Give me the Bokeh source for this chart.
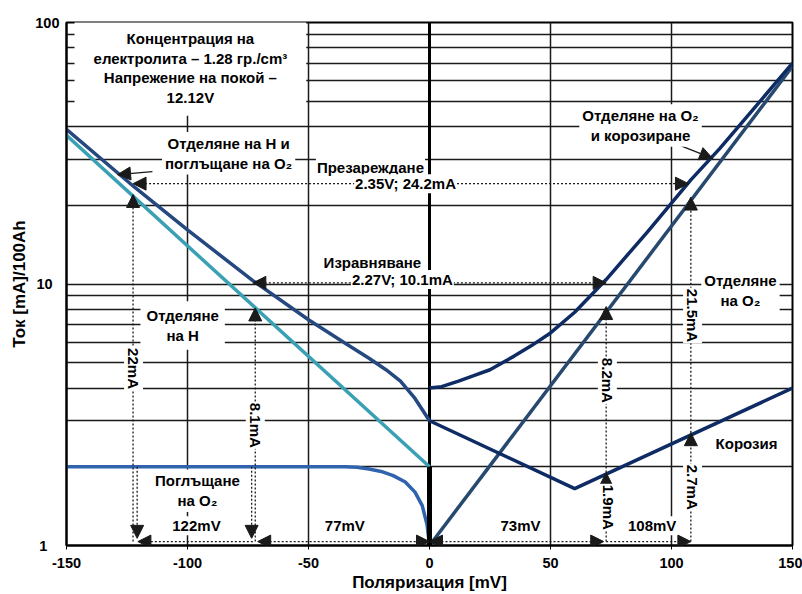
from math import pi
from bokeh.plotting import figure
from bokeh.models import Label, Arrow, NormalHead, FixedTicker, Span, BasicTickFormatter
from bokeh.embed import file_html
from bokeh.resources import INLINE

# ---------------- data ----------------
# hydrogen evolution (straight on log scale)
h_evol_x = [-150, 0]
h_evol_y = [37, 2]
# hydrogen evolution + oxygen absorption
h_total_x = [-150, -122, -100, -73, -50, -35, -25, -18, -12, -6, 0]
h_total_y = [39, 23.5, 16.1, 10.3, 7.3, 5.95, 5.2, 4.7, 4.25, 3.65, 3.0]
# oxygen absorption
o2_abs_x = [-150, -35, -30, -25, -20, -15, -10, -6, -3, -1, 0]
o2_abs_y = [2, 2, 1.99, 1.96, 1.92, 1.85, 1.75, 1.6, 1.42, 1.2, 1.0]
# oxygen evolution
o2_evol_x = [0, 150]
o2_evol_y = [1, 68]
# oxygen evolution + corrosion
o2_total_x = [0, 5, 12, 18, 25, 35, 42, 50, 60, 73, 90, 108, 120, 135, 150]
o2_total_y = [4.0, 4.05, 4.25, 4.45, 4.7, 5.3, 5.8, 6.5, 7.8, 10.4, 15.8, 25, 33, 48, 70]
# corrosion
corr_x = [0, 60, 150]
corr_y = [3, 1.65, 4]

x_ticks = [-150, -100, -50, 0, 50, 100, 150]
y_major = [1, 10, 100]
y_minor = [2, 3, 4, 5, 6, 7, 8, 9, 20, 30, 40, 50, 60, 70, 80, 90]
# y tick labels are centred in the reference: pad the short ones on the right
y_labels = {1: "1\u2007\u2008", 10: "10\u2008\u2009", 100: "100"}

# annotation values
mv_marks = [-122, -73, 73, 108]
ma_evol = [22, 8.1, 8.2, 21.5]
ma_side = [2, 2, 1.9, 2.7]
overcharge_ma = 24.2
equalize_ma = 10.1
base_ma = 1.035

FONT = "Liberation Sans"
INK = "#1a1a1a"

p = figure(width=802, height=594, x_range=(-150, 150), y_range=(1, 100),
           y_axis_type="log", output_backend="svg", toolbar_location=None,
           min_border_left=66, min_border_right=10, min_border_top=22,
           min_border_bottom=49)
p.background_fill_color = "white"
p.border_fill_color = "white"
p.outline_line_color = "black"
p.outline_line_width = 2

xt = FixedTicker(ticks=x_ticks)
p.xaxis.ticker = xt
p.xgrid.ticker = xt
p.xaxis.major_label_overrides = {t: str(t) for t in x_ticks}
yt = FixedTicker(ticks=y_major, minor_ticks=y_minor)
p.yaxis.ticker = yt
p.ygrid.ticker = yt
p.yaxis.formatter = BasicTickFormatter()
p.yaxis.major_label_overrides = y_labels

p.xgrid.grid_line_color = INK
p.xgrid.grid_line_width = 1.5
p.ygrid.grid_line_color = INK
p.ygrid.grid_line_width = 1.5
p.ygrid.minor_grid_line_color = INK
p.ygrid.minor_grid_line_width = 1.5

for ax in p.axis:
    ax.axis_line_color = "black"
    ax.axis_line_width = 2
    ax.major_label_text_font = FONT
    ax.major_label_text_font_style = "bold"
    ax.major_label_text_font_size = "14.5px"
    ax.major_label_text_color = "black"
    ax.axis_label_text_font = FONT
    ax.axis_label_text_font_style = "bold"
    ax.axis_label_text_font_size = "17px"
    ax.axis_label_text_color = "black"
    ax.minor_tick_line_color = None

p.xaxis.axis_label = "Поляризация [mV]"
p.xaxis.major_tick_out = 4
p.xaxis.major_tick_in = 0
p.xaxis.major_tick_line_color = "black"
p.xaxis.major_label_standoff = 8
p.xaxis.axis_label_standoff = 2

p.yaxis.axis_label = "Ток [mA]/100Ah"
p.yaxis.major_tick_out = 0
p.yaxis.major_tick_in = 0
p.yaxis.major_label_standoff = 3
p.yaxis.axis_label_standoff = 3

# emphasised zero line
p.add_layout(Span(location=0, dimension="height", line_color="black",
                  line_width=3, level="underlay"))

# curves
W = 3.5
p.line(h_evol_x, h_evol_y, line_color="#3aa0b3", line_width=W)
p.line(o2_abs_x, o2_abs_y, line_color="#2f63ad", line_width=W)
p.line(h_total_x, h_total_y, line_color="#24487f", line_width=W)
p.line(o2_evol_x, o2_evol_y, line_color="#27496f", line_width=W)
p.line(o2_total_x, o2_total_y, line_color="#0e2b64", line_width=W)
p.line(corr_x, corr_y, line_color="#0e2b64", line_width=W)
p.line([h_evol_x[-1], h_evol_x[-1]], [o2_abs_y[-1], h_evol_y[-1]],
       line_color="black", line_width=5)


def head():
    return NormalHead(size=13, fill_color=INK, line_color=INK, line_width=1)


def arrow(x0, y0, x1, y1, start=False, end=True, dash="2 2"):
    p.add_layout(Arrow(x_start=x0, y_start=y0, x_end=x1, y_end=y1,
                       line_color=INK, line_width=1.3, line_dash=dash,
                       start=head() if start else None,
                       end=head() if end else None))


# horizontal level arrows
arrow(mv_marks[0] - 0.5, overcharge_ma, mv_marks[3] - 1, overcharge_ma, start=True)
arrow(mv_marks[1], equalize_ma, mv_marks[2], equalize_ma, start=True)

# vertical arrows, negative side
arrow(mv_marks[0] - 0.5, base_ma, mv_marks[0] - 0.5, ma_evol[0])
arrow(mv_marks[0] + 1.2, ma_side[0], mv_marks[0] + 1.2, base_ma + 0.03)
arrow(mv_marks[1] + 1.0, base_ma, mv_marks[1] + 1.0, ma_evol[1])
arrow(mv_marks[1] - 0.5, ma_side[1], mv_marks[1] - 0.5, base_ma + 0.03)
# vertical arrows, positive side
arrow(mv_marks[2], base_ma, mv_marks[2], ma_side[2])
arrow(mv_marks[2], ma_side[2], mv_marks[2], ma_evol[2])
arrow(mv_marks[3], base_ma, mv_marks[3], ma_side[3])
arrow(mv_marks[3], ma_side[3], mv_marks[3], ma_evol[3])

# bottom potential arrows
arrow(mv_marks[1], base_ma, mv_marks[0] + 1.5, base_ma)
arrow(mv_marks[1] + 2, base_ma, 0, base_ma, start=True)
arrow(0, base_ma, mv_marks[2] - 1, base_ma, start=True)
arrow(mv_marks[2], base_ma, mv_marks[3], base_ma)

# solid pointers
arrow(-114.5, 26.9, -128.9, 26.2, dash="solid")
arrow(103.7, 33.8, 117, 30.2, dash="solid")


def lab(text, x, y, angle=0.0, size="15px", pad=3):
    p.add_layout(Label(x=x, y=y, text=text, angle=angle,
                       text_align="center", text_baseline="middle",
                       text_font=FONT, text_font_style="bold",
                       text_font_size=size, text_color="black",
                       text_line_height=1.15,
                       background_fill_color="white", padding=pad))


lab("Концентрация на\nелектролита – 1.28 гр./cm³\nНапрежение на покой –\n12.12V",
    -98.8, 67, pad=dict(x=19, y=10))
lab("Отделяне на H и\nпоглъщане на O₂", -83, 31.6)
lab("Презареждане", -24.4, 27.9, pad=1)
lab("2.35V; 24.2mA", -9.9, 24.2, pad=1)
lab("Изравняване", -23.6, 12.1, pad=1)
lab("2.27V; 10.1mA", -11.2, 10.4, pad=1)
lab("Отделяне на O₂\nи корозиране", 87.2, 40.4)
lab("Отделяне\nна O₂", 128.5, 9.45)
lab("Отделяне\nна H", -102, 6.94, pad=6)
lab("Поглъщане\nна O₂", -95.9, 1.62)
lab("Корозия", 131, 2.45)
lab("122mV", -96.3, 1.19, pad=1)
lab("77mV", -35, 1.19, pad=1)
lab("73mV", 37.6, 1.19, pad=1)
lab("108mV", 92, 1.19, pad=1)

lab("22mA", -122.3, 4.75, angle=-pi / 2, pad=1)
lab("8.1mA", -72, 2.88, angle=-pi / 2, pad=1)
lab("8.2mA", 73.5, 4.28, angle=-pi / 2, pad=1)
lab("1.9mA", 74, 1.4, angle=-pi / 2, pad=1)
lab("21.5mA", 108.7, 7.58, angle=-pi / 2, pad=1)
lab("2.7mA", 108.7, 1.67, angle=-pi / 2, pad=1)

open("out.html", "w").write(file_html(p, INLINE))
